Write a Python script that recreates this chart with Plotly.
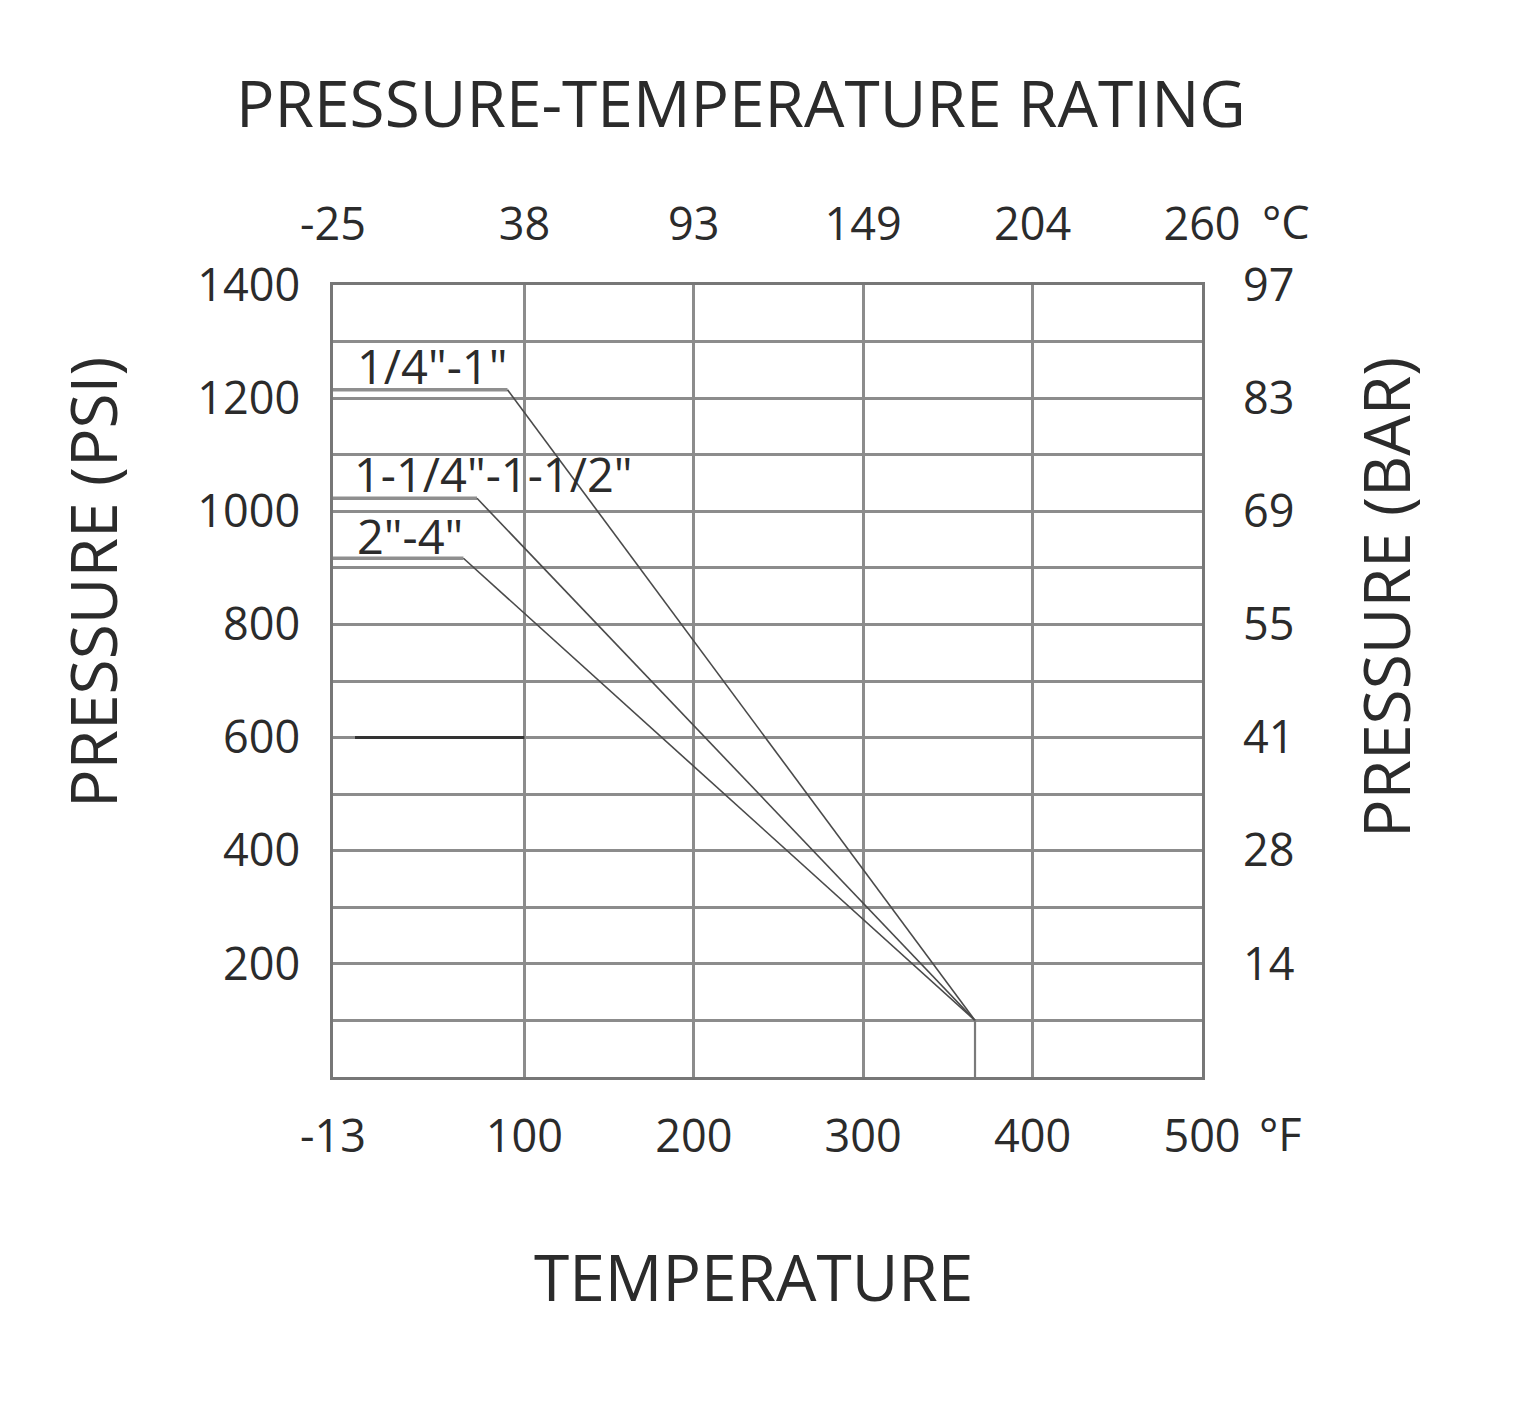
import plotly.graph_objects as go

# ---- data ----
temp_f_ticks = [-13, 100, 200, 300, 400, 500]
temp_f_labels = ["-13", "100", "200", "300", "400", "500"]
temp_c_labels = ["-25", "38", "93", "149", "204", "260"]
psi_ticks = [200, 400, 600, 800, 1000, 1200, 1400]
psi_labels = ["200", "400", "600", "800", "1000", "1200", "1400"]
bar_labels = ["14", "28", "41", "55", "69", "83", "97"]

series_names = ['1/4"-1"', '1-1/4"-1-1/2"', '2"-4"']
flat_psi = [1215, 1023, 917]          # constant rating at low temperature
flat_end_f = [90, 72, 64]             # temperature where derating starts
end_f = 366                            # max temperature
end_psi = 100                          # rating at max temperature
label_x_f = [0, -2, 0]
label_y_psi = [1257, 1066, 957]

mark_x = [0, 100]                      # darker segment on the 600 psi line
mark_y = [600, 600]

FONT = "Open Sans"
TXT = "#2b2b2b"
GRID = "#8c8c8c"

fig = go.Figure()

fig.add_trace(go.Scatter(x=mark_x, y=mark_y, mode="lines",
                         line=dict(color="#333333", width=3), hoverinfo="skip", showlegend=False))

for i in range(3):
    fig.add_trace(go.Scatter(x=[-13, flat_end_f[i]], y=[flat_psi[i], flat_psi[i]], mode="lines",
                             line=dict(color="#8f8f8f", width=3.5), showlegend=False))
    fig.add_trace(go.Scatter(x=[flat_end_f[i], end_f], y=[flat_psi[i], end_psi], mode="lines",
                             line=dict(color="#4a4a4a", width=1.6), showlegend=False))

fig.add_trace(go.Scatter(x=[end_f, end_f], y=[end_psi, 0], mode="lines",
                         line=dict(color="#7a7a7a", width=2.2), showlegend=False))

fig.add_trace(go.Scatter(x=[-13, 500], y=[0, 0], xaxis="x2", yaxis="y2", mode="lines",
                         line=dict(width=0), hoverinfo="skip", showlegend=False))

annotations = []
for i in range(3):
    annotations.append(dict(x=label_x_f[i], y=label_y_psi[i], xref="x", yref="y", text=series_names[i],
                            showarrow=False, xanchor="left", yanchor="middle",
                            font=dict(family=FONT, size=47, color=TXT)))

L, R, T, B = 333, 1202, 285, 1077
W, H = R - L, B - T
def px(x):
    return (x - L) / W
def py(y):
    return (B - y) / H

def ann(x, y, text, size, angle=0, xanchor="center"):
    return dict(x=px(x), y=py(y), xref="paper", yref="paper", text=text, textangle=angle,
                showarrow=False, xanchor=xanchor, yanchor="middle",
                font=dict(family=FONT, size=size, color=TXT))

annotations += [
    ann(741, 103, "PRESSURE-TEMPERATURE RATING", 64),
    ann(92, 583, "PRESSURE (PSI)", 64, -90),
    ann(1385, 598, "PRESSURE (BAR)", 64, -90),
    ann(753, 1276, "TEMPERATURE", 64),
    ann(1257, 1133, "°F", 45, xanchor="left"),
    ann(1260, 222, "°C", 45, xanchor="left"),
]

tickfont = dict(family=FONT, size=45, color=TXT)

fig.update_layout(
    width=1516, height=1419,
    margin=dict(l=L, r=1516 - R, t=T, b=1419 - B),
    paper_bgcolor="white", plot_bgcolor="white",
    showlegend=False,
    annotations=annotations,
    xaxis=dict(range=[-13, 500], tickmode="array", tickvals=temp_f_ticks, ticktext=temp_f_labels,
               showgrid=True, gridcolor=GRID, gridwidth=2.5, zeroline=False,
               showline=True, linecolor="#777777", linewidth=2.5, mirror=True,
               ticks="outside", ticklen=18, tickcolor="rgba(0,0,0,0)", tickfont=tickfont),
    xaxis2=dict(range=[-13, 500], overlaying="x", side="top", tickmode="array", tickvals=temp_f_ticks,
                ticktext=temp_c_labels, showgrid=False, zeroline=False,
                ticks="outside", ticklen=26, tickcolor="rgba(0,0,0,0)", tickfont=tickfont),
    yaxis=dict(range=[0, 1400], tickmode="array", tickvals=psi_ticks, ticktext=psi_labels,
               showgrid=True, gridcolor=GRID, gridwidth=2.5, zeroline=False,
               minor=dict(tickmode="linear", tick0=0, dtick=100, showgrid=True, gridcolor=GRID, gridwidth=2.5),
               showline=True, linecolor="#777777", linewidth=2.5, mirror=True,
               ticks="outside", ticklen=21, tickcolor="rgba(0,0,0,0)", tickfont=tickfont),
    yaxis2=dict(range=[0, 1400], overlaying="y", side="right", tickmode="array", tickvals=psi_ticks,
                ticktext=bar_labels, showgrid=False, zeroline=False,
                ticks="outside", ticklen=31, tickcolor="rgba(0,0,0,0)", tickfont=tickfont),
)

fig.write_html("out.html")
